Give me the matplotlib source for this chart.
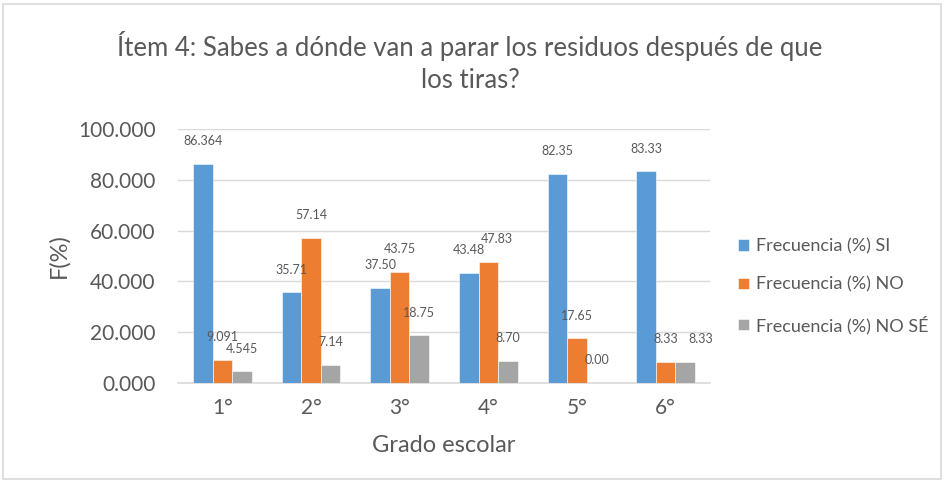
import matplotlib
matplotlib.use("Agg")
import matplotlib.pyplot as plt
from matplotlib.patches import Rectangle
import numpy as np

categories = ["1°", "2°", "3°", "4°", "5°", "6°"]
si = [86.364, 35.71, 37.50, 43.48, 82.35, 83.33]
no = [9.091, 57.14, 43.75, 47.83, 17.65, 8.33]
nose = [4.545, 7.14, 18.75, 8.70, 0.00, 8.33]
decimals = [3, 2, 2, 2, 2, 2]
series_names = ["Frecuencia (%) SI", "Frecuencia (%) NO", "Frecuencia (%) NO SÉ"]
yticks = [0, 20, 40, 60, 80, 100]

colors = ["#5B9BD5", "#ED7D31", "#A5A5A5"]
txt = "#595959"
plt.rcParams['font.family'] = ['Lato', 'DejaVu Sans']

# small horizontal nudges (points) for labels that would collide, as in the reference
nudge = {(1, 3): 6, (2, 5): 11}

fig = plt.figure(figsize=(9.49, 4.8), dpi=100)
fig.patches.append(Rectangle((3/949, 1/480), 938/949, 475/480, transform=fig.transFigure,
                             fill=False, edgecolor="#D9D9D9", linewidth=1.2))
ax = fig.add_axes([178/949, 1 - 383/480, (710 - 178)/949, (383 - 129)/480])

x = np.arange(len(categories))
w = 0.22
for i, (vals, c, name) in enumerate(zip([si, no, nose], colors, series_names)):
    bars = ax.bar(x + (i - 1) * w, vals, w, color=c, label=name, edgecolor="white", linewidth=0.4, zorder=3)
    for j, (b, v, d) in enumerate(zip(bars, vals, decimals)):
        ax.annotate(f"{v:.{d}f}", (b.get_x() + b.get_width() / 2, v),
                    xytext=(nudge.get((i, j), 0), 12),
                    textcoords="offset points", ha="center", va="bottom", fontsize=9,
                    color=txt, zorder=6)

ax.set_xlim(-0.5, len(categories) - 0.5)
ax.set_ylim(0, 100)
ax.set_yticks(yticks)
ax.set_yticklabels([f"{t:.3f}" for t in yticks])
ax.set_xticks(x)
ax.set_xticklabels(categories)
ax.tick_params(axis="both", length=0, labelsize=15, colors=txt)
ax.tick_params(axis="y", pad=16)
ax.tick_params(axis="x", pad=11)
ax.yaxis.grid(True, color="#D9D9D9", linewidth=1, zorder=0)
ax.set_axisbelow(True)
for s in ["top", "right", "left"]:
    ax.spines[s].set_visible(False)
ax.spines["bottom"].set_color("#D9D9D9")
ax.spines["bottom"].set_linewidth(1.2)
ax.set_xlabel("Grado escolar", fontsize=17, color=txt, labelpad=12)
ax.set_ylabel("F(%)", fontsize=17, color=txt, labelpad=6)

fig.text(470/949, 1 - 62/480, "Ítem 4: Sabes a dónde van a parar los residuos después de que\nlos tiras?",
         ha="center", va="center", fontsize=18.5, color=txt, linespacing=1.35)

leg = fig.legend(loc="center left", bbox_to_anchor=(722/949, 1 - 286/480), frameon=False,
                 fontsize=13, labelcolor=txt, handlelength=0.6, handleheight=0.6,
                 handletextpad=0.4, labelspacing=1.25)

fig.savefig("out.png", dpi=100)
